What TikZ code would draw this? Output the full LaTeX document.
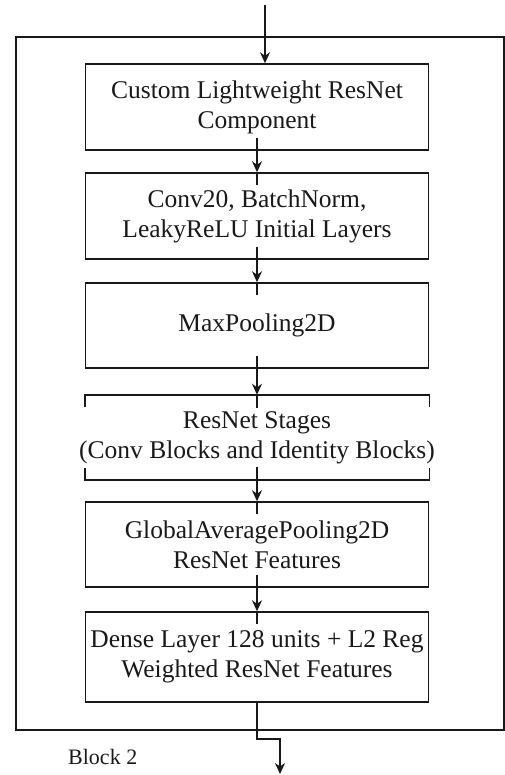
\documentclass[tikz,border=0pt]{standalone}
\usepackage{fontspec}
\setmainfont{Liberation Serif}
\usetikzlibrary{arrows.meta}

\begin{document}
\begin{tikzpicture}[x=1pt,y=-1pt,
  ink/.style={draw=black!90,line width=1.5pt},
  layerbox/.style={ink,rectangle,minimum width=343pt,inner sep=0pt,
    align=center,text=black!90,font=\fontsize{25.5}{30}\selectfont},
  bracketbox/.style={rectangle,minimum width=343pt,inner sep=0pt,
    align=center,text=black!90,font=\fontsize{25.5}{30}\selectfont},
  flow/.style={ink,-{Stealth[length=11pt,width=10pt]}},
  wire/.style={ink}
]
\useasboundingbox (0,0) rectangle (505,775);

% outer block frame
\draw[ink] (16,37) rectangle (504,730);

% layers
\node[layerbox,minimum height=86pt] (b1) at (257,107)
  {Custom Lightweight ResNet\\Component};
\node[layerbox,minimum height=86pt] (b2) at (257,216)
  {Conv20, BatchNorm,\\LeakyReLU Initial Layers};
\node[layerbox,minimum height=85pt] (b3) at (257,325.5)
  {MaxPooling2D};
\node[bracketbox,minimum height=85pt] (b4) at (257,437.5)
  {ResNet Stages\\(Conv Blocks and Identity Blocks)};
\node[layerbox,minimum height=85pt] (b5) at (257,544.5)
  {GlobalAveragePooling2D\\ResNet Features};
\node[layerbox,minimum height=90pt] (b6) at (257,657)
  {Dense Layer 128 units + L2 Reg\\Weighted ResNet Features};

% open bracket edges of the stages box, aligned with the other layers
\coordinate (tl) at (b3.west |- b4.north);
\coordinate (tr) at (b3.east |- b4.north);
\coordinate (bl) at (b3.west |- b4.south);
\coordinate (br) at (b3.east |- b4.south);
\draw[ink] ([yshift=-12pt]tl) -- (tl) -- (tr) -- ([yshift=-12pt]tr);
\draw[ink] ([yshift=12pt]bl) -- (bl) -- (br) -- ([yshift=12pt]br);

% label
\node[anchor=west,inner sep=0pt,text=black!90,font=\fontsize{22}{26}\selectfont] (lbl) at (68,757) {Block 2};

% input and output
\coordinate (in) at (265,5);
\coordinate (out) at (280,774);
\draw[flow] (in) -- (in |- b1.north);
\draw[flow] (b6.south) -- ++(0pt,-36pt) -| (out);

% connectors between layers (lines pass slightly into both boxes)
\foreach \s/\t in {b1/b2,b2/b3,b3/b4,b4/b5,b5/b6}{
  \draw[flow] ([yshift=13pt]\s.south) -- (\t.north);
  \draw[wire] (\t.north) -- ([yshift=-13pt]\t.north);
}
\end{tikzpicture}
\end{document}
